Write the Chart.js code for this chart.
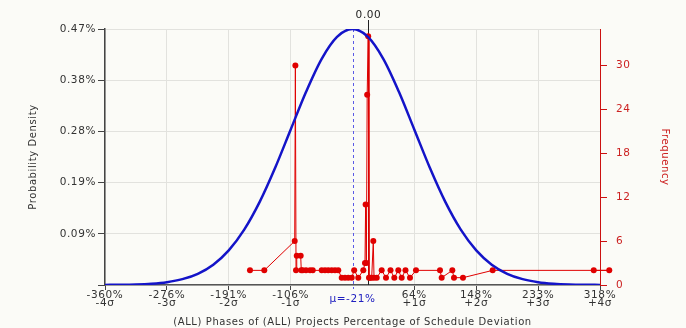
<!DOCTYPE html>
<html>
<head>
<meta charset="utf-8">
<script src="https://cdn.jsdelivr.net/npm/chart.js@4/dist/chart.umd.min.js"></script>
<style>
  body { margin: 0; background: #fbfbf7; }
  canvas { display: block; }
</style>
</head>
<body>
<canvas id="chart" width="686" height="328"></canvas>
<script>
// x axis: one tick per sigma, mean in the middle
const xTickValues = [-360.4, -275.6, -190.8, -106.0, -21.2, 63.6, 148.4, 233.2, 318.0];
const xTickPct = ['-360%', '-276%', '-191%', '-106%', '', '64%', '148%', '233%', '318%'];
const xTickSigma = ['-4σ', '-3σ', '-2σ', '-1σ', '', '+1σ', '+2σ', '+3σ', '+4σ'];
const meanValue = -21.2;
const meanLabel = 'μ=-21%';
const markerValue = 0;
const markerLabel = '0.00';

// left axis (probability density, %)
const densityTickValues = [0, 0.0939, 0.1878, 0.2816, 0.3755, 0.4694];
const densityTickLabels = ['', '0.09%', '0.19%', '0.28%', '0.38%', '0.47%'];

// right axis (frequency)
const freqTickValues = [0, 6, 12, 18, 24, 30];

// normal curve, read at quarter sigma steps
const curveX = [-360.4, -339.2, -318.0, -296.8, -275.6, -254.4, -233.2, -212.0, -190.8,
    -169.6, -148.4, -127.2, -106.0, -84.8, -63.6, -42.4, -21.2, 0.0, 21.2, 42.4, 63.6,
    84.8, 106.0, 127.2, 148.4, 169.6, 190.8, 212.0, 233.2, 254.4, 275.6, 296.8, 318.0];
const curveDensity = [0.0002, 0.0004, 0.0010, 0.0024, 0.0052, 0.0107, 0.0206, 0.0373, 0.0635,
    0.1015, 0.1524, 0.2149, 0.2847, 0.3543, 0.4143, 0.4550, 0.4694, 0.4550, 0.4143, 0.3543,
    0.2847, 0.2149, 0.1524, 0.1015, 0.0635, 0.0373, 0.0206, 0.0107, 0.0052, 0.0024, 0.0010,
    0.0004, 0.0002];

// observed deviations (frequency polygon)
const freqX = [-161.7, -142.1, -100.4, -99.5, -98.6, -97.6, -92.2, -91.4, -89.5, -84.9,
    -79.4, -75.7, -63.4, -58.9, -54.4, -49.7, -45.2, -40.7, -36.0, -31.5, -27.0, -22.3,
    -18.9, -13.3, -6.4, -4.1, -3.2, -2.2, -1.1, 0.3, 1.4, 2.8, 5.1, 7.3, 8.3, 12.0, 18.8,
    24.7, 30.9, 36.1, 41.6, 46.2, 51.4, 57.6, 65.8, 98.7, 101.0, 115.6, 117.9, 130.2,
    170.9, 309.4, 330.7];
const freqCount = [2, 2, 6, 30, 2, 4, 4, 2, 2, 2, 2, 2, 2, 2, 2, 2, 2, 2, 1, 1, 1, 1,
    2, 1, 2, 3, 11, 3, 26, 34, 1, 1, 1, 6, 1, 1, 2, 1, 2, 1, 2, 1, 2, 1, 2, 2, 1, 2, 1, 1,
    2, 2, 2];

Chart.defaults.font.family = 'DejaVu Sans';
Chart.defaults.font.size = 10.5;
Chart.defaults.color = '#333';

const overlay = {
    id: 'overlay',
    beforeDraw(chart) {
        const c = chart.ctx;
        c.save();
        c.fillStyle = '#fbfbf7';
        c.fillRect(0, 0, chart.width, chart.height);
        c.restore();
        c.letterSpacing = '0.6px';
    },
    beforeDatasetsDraw(chart) {
        const c = chart.ctx;
        const a = chart.chartArea;
        const x = chart.scales.x;
        c.save();
        // mean line
        const mx = Math.round(x.getPixelForValue(meanValue)) + 0.5;
        c.strokeStyle = '#5a5ae6';
        c.lineWidth = 1;
        c.setLineDash([3, 3]);
        c.beginPath();
        c.moveTo(mx, a.top);
        c.lineTo(mx, a.bottom + 4);
        c.stroke();
        // marker at 0.00
        const zx = Math.round(x.getPixelForValue(markerValue)) + 0.5;
        c.setLineDash([]);
        c.strokeStyle = '#222';
        c.beginPath();
        c.moveTo(zx, a.top - 9);
        c.lineTo(zx, a.bottom);
        c.stroke();
        c.fillStyle = '#222';
        c.textAlign = 'center';
        c.textBaseline = 'bottom';
        c.font = '10.5px "DejaVu Sans"';
        c.fillText(markerLabel, zx, a.top - 8);
        c.restore();
    },
    afterDatasetsDraw(chart) {
        // frequency points that fall past the right edge of the plot
        const c = chart.ctx;
        const a = chart.chartArea;
        const pts = chart.getDatasetMeta(1).data;
        c.save();
        c.strokeStyle = '#e00000';
        c.fillStyle = '#e00000';
        c.lineWidth = 1;
        for (let i = 1; i < pts.length; i++) {
            const p = pts[i], q = pts[i - 1];
            if (p.x <= a.right) continue;
            c.beginPath();
            c.moveTo(q.x, q.y);
            c.lineTo(p.x, p.y);
            c.stroke();
            c.beginPath();
            c.arc(p.x, p.y, 3, 0, Math.PI * 2);
            c.fill();
        }
        c.restore();
    }
};

new Chart(document.getElementById('chart'), {
    type: 'scatter',
    data: {
        datasets: [{
            label: 'Normal',
            data: curveX.map((v, i) => ({x: v, y: curveDensity[i]})),
            yAxisID: 'y',
            showLine: true,
            borderColor: '#1414c8',
            borderWidth: 2.5,
            pointRadius: 0,
            cubicInterpolationMode: 'monotone',
            fill: false
        }, {
            label: 'Frequency',
            data: freqX.map((v, i) => ({x: v, y: freqCount[i]})),
            yAxisID: 'y2',
            showLine: true,
            borderColor: '#e00000',
            backgroundColor: '#e00000',
            borderWidth: 1,
            pointRadius: 3,
            pointBorderWidth: 0,
            clip: false
        }]
    },
    options: {
        responsive: false,
        animation: false,
        layout: { padding: { top: 29, left: 0, right: 0, bottom: 0 } },
        plugins: {
            legend: { display: false },
            tooltip: { enabled: false }
        },
        scales: {
            x: {
                type: 'linear',
                bounds: 'data',
                afterDataLimits: s => { s.min = -360.4; s.max = 318.0; },
                afterBuildTicks: s => { s.ticks = xTickValues.map(v => ({value: v})); },
                afterFit: s => { s.height = 43; },
                grid: {
                    color: c => (c.tick && c.tick.value === meanValue) ? 'rgba(0,0,0,0)' : '#e2e2de',
                    tickColor: c => (c.tick && c.tick.value === meanValue) ? 'rgba(0,0,0,0)' : '#444',
                    tickLength: 5
                },
                border: { color: '#555', width: 1.5 },
                ticks: {
                    autoSkip: false,
                    maxRotation: 0,
                    padding: 5,
                    crossAlign: 'center',
                    font: { size: 10.5, lineHeight: 0.82 },
                    color: c => (c.tick && c.tick.value === meanValue) ? '#2020c0' : '#333',
                    callback: (v, i) => i === 4 ? meanLabel : [xTickPct[i], xTickSigma[i]]
                },
                title: {
                    display: true,
                    text: '(ALL) Phases of (ALL) Projects Percentage of Schedule Deviation',
                    color: '#333',
                    font: { size: 10 },
                    padding: { top: 0, bottom: 0 }
                }
            },
            y: {
                position: 'left',
                min: 0,
                max: 0.4694,
                afterBuildTicks: s => { s.ticks = densityTickValues.map(v => ({value: v})); },
                afterFit: s => { s.width = 105; },
                grid: { color: '#e2e2de', tickColor: '#444', tickLength: 7 },
                border: { color: '#444', width: 1.5 },
                ticks: {
                    padding: 2,
                    callback: (v, i) => densityTickLabels[i]
                },
                title: {
                    display: true,
                    text: 'Probability Density',
                    color: '#333',
                    font: { size: 10 },
                    padding: { top: 27 }
                }
            },
            y2: {
                position: 'right',
                min: 0,
                max: 35,
                afterBuildTicks: s => { s.ticks = freqTickValues.map(v => ({value: v})); },
                afterFit: s => { s.width = 86; },
                grid: { drawOnChartArea: false, color: '#cc1111', tickColor: '#cc1111', tickLength: 7 },
                border: { color: '#cc1111', width: 1 },
                ticks: { padding: 9, color: '#cc2222' },
                title: {
                    display: true,
                    text: 'Frequency',
                    color: '#cc2222',
                    font: { size: 10 },
                    padding: { top: 15 }
                }
            }
        }
    },
    plugins: [overlay]
});
</script>
</body>
</html>
